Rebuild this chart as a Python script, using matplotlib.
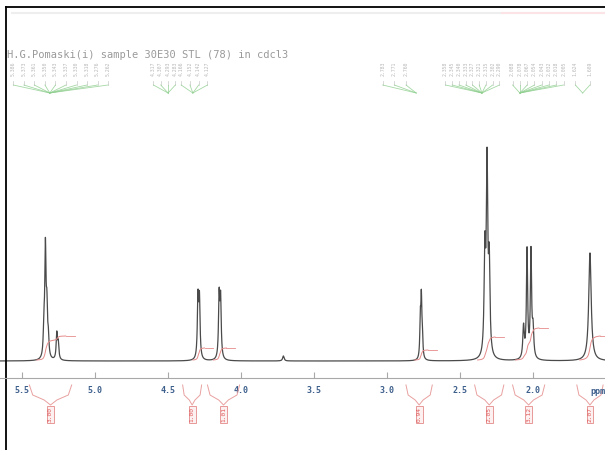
import numpy as np
import matplotlib
matplotlib.use("Agg")
import matplotlib.pyplot as plt

# peak list (ppm, height in px above baseline, half width)
peak_ppm = [5.350, 5.340, 5.330, 5.320, 5.262, 5.252,
            4.295, 4.285, 4.150, 4.140, 3.710,
            2.772, 2.765, 2.758,
            2.330, 2.315, 2.300,
            2.065, 2.041, 2.014, 2.000,
            1.610]
peak_height = [28, 108, 45, 18, 26, 16,
               60, 58, 62, 58, 5,
               38, 57, 22,
               100, 188, 88,
               32, 108, 106, 28,
               108]
peak_width = [0.005, 0.005, 0.005, 0.005, 0.005, 0.005,
              0.005, 0.005, 0.005, 0.005, 0.006,
              0.004, 0.004, 0.004,
              0.006, 0.006, 0.006,
              0.006, 0.005, 0.005, 0.006,
              0.010]

# integral regions (ppm from, ppm to, rise in px, value)
int_start = [5.40, 4.33, 4.19, 2.81, 2.38, 2.12, 1.68]
int_end = [5.20, 4.25, 4.10, 2.72, 2.26, 1.96, 1.54]
int_rise = [24, 12, 12, 10, 23, 32, 24]
int_value = ["3.00", "1.00", "1.01", "0.94", "2.05", "3.12", "2.07"]
bracket_left = [5.45, 4.40, 4.23, 2.87, 2.40, 2.14, 1.70]
bracket_right = [5.16, 4.27, 4.01, 2.69, 2.20, 1.92, 1.52]

# peak picking labels (groups)
label_groups = [
    [5.386, 5.373, 5.361, 5.350, 5.343, 5.337, 5.330, 5.318, 5.276, 5.262],
    [4.317, 4.307, 4.293, 4.283],
    [4.166, 4.152, 4.142, 4.127],
    [2.783, 2.771, 2.760],
    [2.358, 2.345, 2.340, 2.333, 2.327, 2.321, 2.315, 2.302, 2.290],
    [2.088, 2.078, 2.067, 2.054, 2.043, 2.032, 2.018, 2.005],
    [1.624, 1.609],
]
group_span = [(5.56, 4.91), (4.60, 4.45), (4.41, 4.23), (3.03, 2.87),
              (2.60, 2.23), (2.14, 1.79), (1.71, 1.61)]
group_apex = [5.31, 4.50, 4.33, 2.80, 2.35, 2.09, 1.66]

ticks = [5.5, 5.0, 4.5, 4.0, 3.5, 3.0, 2.5, 2.0]
title = "H.G.Pomaski(i) sample 30E30 STL (78) in cdcl3"

x = np.linspace(5.651, 1.507, 6000)
y = np.zeros_like(x)
for c, h, w in zip(peak_ppm, peak_height, peak_width):
    y += h * w**2 / ((x - c)**2 + w**2)

fig = plt.figure(figsize=(6.05, 4.5), dpi=100)
ax = fig.add_axes([0, 0, 1, 1])
ax.set_xlim(5.651, 1.507)
ax.set_ylim(-89, 361)

ax.plot(x, y, color="#4a4a4a", lw=0.9)

# integrals
for a, b, r in zip(int_start, int_end, int_rise):
    m = (x <= a) & (x >= b)
    cum = np.cumsum(y[m])
    cum = cum / cum[-1] * r
    ax.plot(x[m], cum + 1, color="#e58a8a", lw=0.7)
    ax.plot([b, b - 0.06], [r + 1, r + 1], color="#e58a8a", lw=0.6)

# integral brackets and boxed values below the axis
for l, r, v in zip(bracket_left, bracket_right, int_value):
    c = (l + r) / 2
    w = l - r
    bx = [l, l - 0.08 * w, c + 0.15 * w, c, c - 0.15 * w, r + 0.08 * w, r]
    by = [-24, -34, -39, -44, -39, -34, -24]
    ax.plot(bx, by, color="#e9a0a0", lw=0.7)
    ax.text(c, -46, v, rotation=90, ha="center", va="top", fontsize=4.5,
            color="#e05a5a", family="DejaVu Sans Mono",
            bbox=dict(boxstyle="square,pad=0.15", fc="#fdf0f0", ec="#e58a8a", lw=0.6))

# peak labels with green fan lines
for vals, (s0, s1), apex in zip(label_groups, group_span, group_apex):
    xs = np.linspace(s0, s1, len(vals))
    for xv, v in zip(xs, vals):
        ax.text(xv, 299, "%.3f" % v, rotation=90, ha="center", va="top",
                fontsize=3.5, color="#b8b8b8", family="DejaVu Sans Mono")
        ax.plot([xv, xv], [280, 276], color="#c8c8c8", lw=0.5)
        ax.plot([xv, apex], [276, 268], color="#8fcf8f", lw=0.6, alpha=0.8)

ax.text(5.60, 306, title, fontsize=7.5, color="#9a9a9a",
        family="DejaVu Sans Mono", va="center")

# ppm axis
for s in ["top", "left", "right"]:
    ax.spines[s].set_visible(False)
ax.spines["bottom"].set_position(("data", -17))
ax.spines["bottom"].set_color("#a8a8a8")
ax.spines["bottom"].set_linewidth(0.8)
ax.set_yticks([])
ax.set_xticks(ticks)
ax.set_xticklabels(["%.1f" % t for t in ticks], family="DejaVu Sans Mono",
                   fontweight="bold")
ax.tick_params(axis="x", direction="in", length=4, color="#a8a8a8",
               labelsize=6, labelcolor="#3d5f8c", pad=6)
ax.text(1.555, -31, "ppm", fontsize=6, color="#3d5f8c", fontweight="bold",
        family="DejaVu Sans Mono", ha="center", va="center")

# frame of the scanned page
ax.plot([0.0099, 0.0099], [0, 0.984], color="black", lw=1.3,
        transform=ax.transAxes, clip_on=False)
ax.plot([0.0099, 1], [0.984, 0.984], color="black", lw=1.3,
        transform=ax.transAxes, clip_on=False)
ax.plot([0.02, 0.83], [0.972, 0.972], color="#eeeeee", lw=1.5,
        transform=ax.transAxes)
ax.plot([0.83, 1], [0.972, 0.972], color="#fbe3e6", lw=1.5,
        transform=ax.transAxes)

fig.savefig("out.png", dpi=100)
